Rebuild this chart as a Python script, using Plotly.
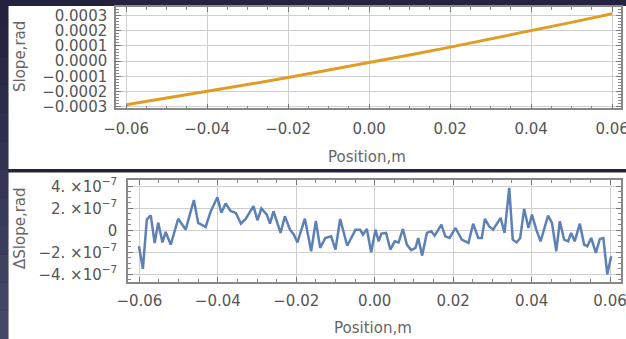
import plotly.graph_objects as go

W, H = 626, 339

# Slope along the sample (rad), sampled every 10 mm
position_m = [-0.06, -0.05, -0.04, -0.03, -0.02, -0.01, 0.0,
              0.01, 0.02, 0.03, 0.04, 0.05, 0.06]
slope_rad = [-0.0002875, -0.0002444, -0.0002000, -0.0001544, -0.0001075,
             -0.0000594, -0.0000100, 0.0000406, 0.0000925, 0.0001456,
             0.0002000, 0.0002556, 0.0003125]

# Slope residual (units of 1e-7 rad)
dpos_m = [-0.0601, -0.0591, -0.0581, -0.0571, -0.0561, -0.0552, -0.0541, -0.0533,
          -0.0520, -0.0501, -0.0482, -0.0461, -0.0450, -0.0439, -0.0431, -0.0418,
          -0.0401, -0.0391, -0.0380, -0.0367, -0.0354, -0.0341, -0.0329, -0.0309,
          -0.0299, -0.0289, -0.0275, -0.0267, -0.0258, -0.0240, -0.0229, -0.0216,
          -0.0206, -0.0197, -0.0178, -0.0162, -0.0150, -0.0139, -0.0126, -0.0111,
          -0.0100, -0.0088, -0.0070, -0.0049, -0.0037, -0.0030, -0.0020, -0.0009,
          0.0002, 0.0010, 0.0017, 0.0029, 0.0040, 0.0051, 0.0061, 0.0072,
          0.0082, 0.0093, 0.0104, 0.0111, 0.0121, 0.0133, 0.0144, 0.0153,
          0.0170, 0.0180, 0.0191, 0.0206, 0.0222, 0.0239, 0.0251, 0.0264,
          0.0273, 0.0281, 0.0292, 0.0302, 0.0321, 0.0331, 0.0343, 0.0352,
          0.0362, 0.0371, 0.0381, 0.0392, 0.0401, 0.0412, 0.0423, 0.0442,
          0.0452, 0.0463, 0.0472, 0.0483, 0.0493, 0.0501, 0.0510, 0.0523,
          0.0534, 0.0542, 0.0552, 0.0564, 0.0574, 0.0583, 0.0593, 0.0603]
dslope_e7 = [-1.45, -3.5, 0.97, 1.35, -1.15, 0.7, -1.1, -0.15,
             -1.3, 1.05, 0.06, 2.75, 0.67, 0.43, 0.3, 1.73,
             3.0, 1.6, 2.43, 1.73, 1.58, 0.6, 1.03, 2.2,
             0.91, 1.98, 1.43, 0.6, 1.73, -0.24, 1.27, 0.06,
             -0.4, -1.1, 1.05, -1.9, 0.85, -1.6, -0.7, -0.55,
             -1.75, 1.03, -1.4, 0.06, 0.06, -0.4, 0.12, -2.0,
             0.06, -1.0, -0.3, -0.24, -1.75, -1.0, -1.1, 0.12,
             -1.3, -1.8, -1.6, -0.7, -2.3, -0.24, -0.09, -0.48,
             0.52, -0.55, -0.7, 0.21, -0.85, -1.15, 0.6, -0.7,
             -0.7, 1.03, 0.36, 0.06, 1.13, -0.24, 3.85, -0.85,
             -1.1, -0.7, 1.95, 0.21, 1.43, 0.06, -1.0, 1.34,
             0.67, -1.9, 0.82, -0.85, -1.0, -0.24, -1.0, 0.6,
             -1.3, -1.45, -0.7, -2.05, -0.79, -0.7, -4.0, -2.36]
dslope_rad = [v * 1e-7 for v in dslope_e7]

x_ticks = [-0.06, -0.04, -0.02, 0.0, 0.02, 0.04, 0.06]
x_ticktext = ["\u22120.06", "\u22120.04", "\u22120.02", "0.00", "0.02", "0.04", "0.06"]
dy_tickvals = [-4e-7, -2e-7, 0, 2e-7, 4e-7]
dy_ticktext = ["\u22124. \u00d710<sup>\u22127</sup>", "\u22122. \u00d710<sup>\u22127</sup>", "0",
               "2. \u00d710<sup>\u22127</sup>", "4. \u00d710<sup>\u22127</sup>"]

ORANGE = "#E19C24"
BLUE = "#5E81B5"
FONT = "DejaVu Sans"
TICK_COLOR = "#555555"


def px_x(p):
    return p / W


def px_y(p):
    return 1 - p / H


fig = go.Figure()
fig.add_trace(go.Scatter(x=position_m, y=slope_rad, mode="lines",
                         line=dict(color=ORANGE, width=3), xaxis="x", yaxis="y",
                         showlegend=False))
fig.add_trace(go.Scatter(x=dpos_m, y=dslope_rad, mode="lines",
                         line=dict(color=BLUE, width=2.5), xaxis="x2", yaxis="y2",
                         showlegend=False))

axis_common = dict(
    showline=True, linecolor="#888888", linewidth=1.5, mirror="allticks",
    ticks="inside", ticklen=5, tickcolor="#777777", tickwidth=1,
    showgrid=True, gridcolor="#cfcfcf", gridwidth=1, zeroline=False,
    automargin=False, ticklabeloverflow="allow",
    tickfont=dict(family=FONT, size=15, color=TICK_COLOR),
)

fig.update_layout(
    template="none",
    width=W, height=H,
    margin=dict(l=0, r=0, t=0, b=0, pad=0),
    paper_bgcolor="#23223f",
    plot_bgcolor="white",
    xaxis=dict(domain=[px_x(116), px_x(621)], range=[-0.0625, 0.0622],
               tickvals=x_ticks, ticktext=x_ticktext, ticklabelstandoff=6,
               minor=dict(ticks="inside", ticklen=3, dtick=0.005, tickcolor="#888888",
                          showgrid=False),
               anchor="y", **axis_common),
    yaxis=dict(domain=[px_y(108.3), px_y(7.3)], range=[-0.000311, 0.000355],
               tickvals=[-0.0003, -0.0002, -0.0001, 0.0, 0.0001, 0.0002, 0.0003],
               tickformat=".4f", ticklabelstandoff=4,
               minor=dict(ticks="inside", ticklen=3, dtick=0.00002, tickcolor="#888888",
                          showgrid=False),
               anchor="x", **axis_common),
    xaxis2=dict(domain=[px_x(128), px_x(621)], range=[-0.0629, 0.0628],
                tickvals=x_ticks, ticktext=x_ticktext, ticklabelstandoff=5,
                minor=dict(ticks="inside", ticklen=3, dtick=0.005, tickcolor="#888888",
                           showgrid=False),
                anchor="y2", **axis_common),
    yaxis2=dict(domain=[px_y(281.7), px_y(180)], range=[-4.67e-7, 4.57e-7],
                tickvals=dy_tickvals, ticktext=dy_ticktext, ticklabelstandoff=6,
                minor=dict(ticks="inside", ticklen=3, dtick=5e-8, tickcolor="#888888",
                           showgrid=False),
                anchor="x2", **axis_common),
)

# Panel backgrounds and the dark border strips
shapes = [
    dict(type="rect", xref="paper", yref="paper", x0=px_x(8.3), x1=1,
         y0=px_y(169), y1=px_y(6), fillcolor="white", line_width=0, layer="below"),
    dict(type="rect", xref="paper", yref="paper", x0=px_x(8.3), x1=1,
         y0=0, y1=px_y(172.5), fillcolor="white", line_width=0, layer="below"),
]
strip_top = (0x22, 0x21, 0x3e)
strip_bot = (0x44, 0x48, 0x68)
n = 12
for i in range(n):
    t = i / (n - 1)
    c = tuple(round(a + (b - a) * t) for a, b in zip(strip_top, strip_bot))
    shapes.append(dict(type="rect", xref="paper", yref="paper", x0=0, x1=px_x(8.3),
                       y0=px_y(H * (i + 1) / n), y1=px_y(H * i / n),
                       fillcolor="rgb(%d,%d,%d)" % c, line_width=0, layer="below"))
fig.update_layout(shapes=shapes)

title_font = dict(family=FONT, size=15, color="#666666")
annotations = [
    dict(text="Position,m", x=px_x(367), y=px_y(157), xref="paper", yref="paper",
         showarrow=False, font=title_font, xanchor="center", yanchor="middle"),
    dict(text="Position,m", x=px_x(373), y=px_y(328), xref="paper", yref="paper",
         showarrow=False, font=title_font, xanchor="center", yanchor="middle"),
    dict(text="Slope,rad", x=px_x(20), y=px_y(57), xref="paper", yref="paper",
         showarrow=False, font=title_font, textangle=-90,
         xanchor="center", yanchor="middle"),
    dict(text="\u0394Slope,rad", x=px_x(20), y=px_y(228), xref="paper", yref="paper",
         showarrow=False, font=title_font, textangle=-90,
         xanchor="center", yanchor="middle"),
]
fig.update_layout(annotations=annotations)

fig.write_html("out.html")
